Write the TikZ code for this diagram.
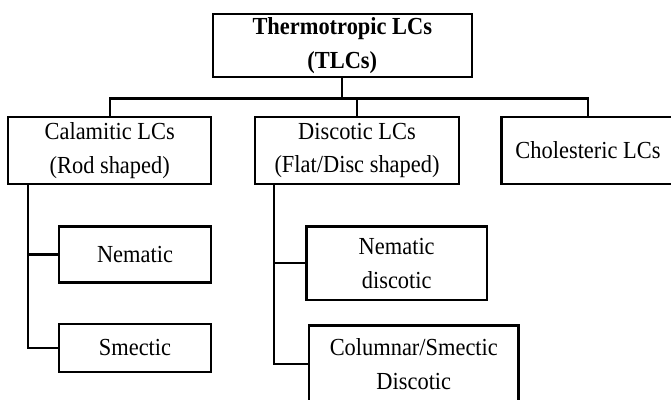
\documentclass[tikz,border=0pt]{standalone}
\usepackage{fontspec}
\setmainfont[FakeStretch=0.915]{Liberation Serif}
\usetikzlibrary{positioning}

\begin{document}
\begin{tikzpicture}[x=1pt,y=1pt,line width=2.3pt,
  every node/.style={rectangle,draw,align=center,inner sep=0pt,
    font=\fontsize{24.5}{33.5}\selectfont},
  lcbox/.style={minimum height=67pt}]
  \useasboundingbox (0,0) rectangle (671,399);
  \clip (0,0) rectangle (671,399);
  % top level
  \node[minimum width=259pt,minimum height=63pt,
    font=\fontsize{24.5}{33.5}\selectfont\bfseries] (tlc) at (342.3,353.5)
    {Thermotropic LCs\\(TLCs)};
  % second level
  \node[lcbox,minimum width=203pt] (cal) at (109.7,248.5) {Calamitic LCs\\(Rod shaped)};
  \node[lcbox,minimum width=204pt] (disc) at (357,248.5) {Discotic LCs\\(Flat/Disc shaped)};
  \node[lcbox,minimum width=173pt] (chol) at (588,248.5) {Cholesteric LCs};
  % third level
  \node[minimum width=151.4pt,minimum height=56pt] (nem) at (135,144.4) {Nematic};
  \node[minimum width=151.4pt,minimum height=48pt] (sme) at (135,51) {Smectic};
  \node[minimum width=180.5pt,minimum height=73.3pt] (nemd) at (396.7,135.7) {Nematic\\discotic};
  \node[minimum width=209.6pt,minimum height=77pt] (col) at (413.8,35) {Columnar/Smectic\\Discotic};
  % connectors
  \draw (tlc.south) -- ++(0,-20.3) coordinate (bus);
  \draw (cal.north) |- (bus) -| (chol.north);
  \draw (disc.north) -- (disc.north |- bus);
  \draw ([xshift=21pt]cal.south west) |- (nem.west);
  \draw ([xshift=21pt]cal.south west) |- (sme.west);
  \draw ([xshift=20pt]disc.south west) |- (nemd.west);
  \draw ([xshift=20pt]disc.south west) |- (col.west);
\end{tikzpicture}
\end{document}
